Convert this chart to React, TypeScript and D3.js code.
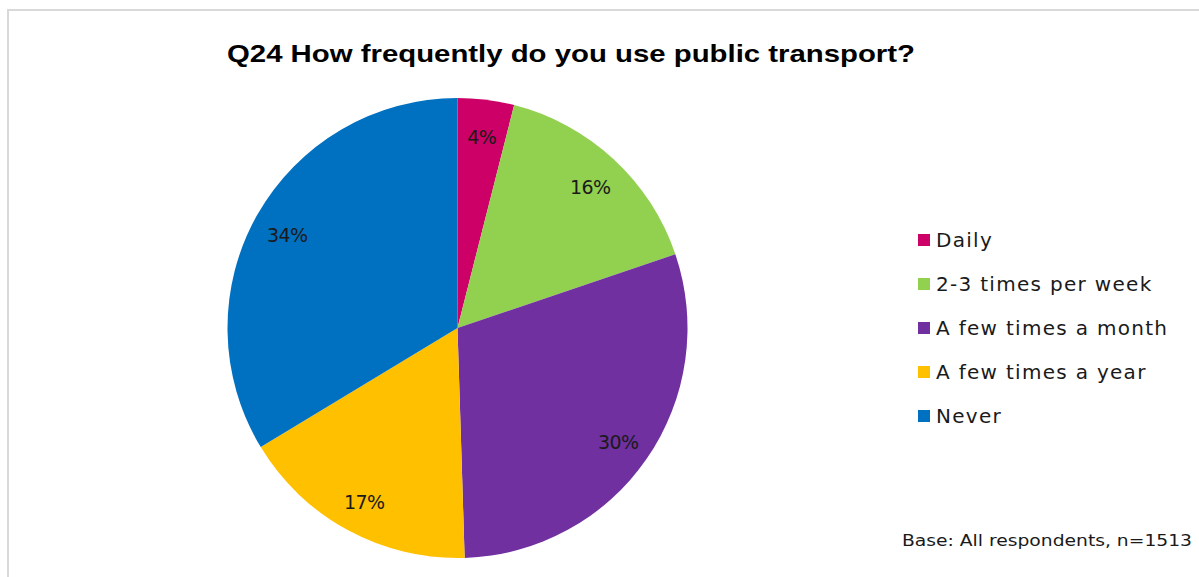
import React from "react";
import * as d3 from "d3";

const categories = ["Daily", "2-3 times per week", "A few times a month", "A few times a year", "Never"];
const values = [4, 16, 30, 17, 34];
const colors = ["#CC0066", "#92D050", "#7030A0", "#FFC000", "#0070C0"];
const title = "Q24 How frequently do you use public transport?";
const baseNote = "Base: All respondents, n=1513";

export default function App() {
  const W = 1199, H = 577;
  const cx = 457.5, cy = 328, R = 230;
  const pie = d3.pie<number>().sort(null).value((d) => d)(values);
  const arc = d3.arc<d3.PieArcDatum<number>>().innerRadius(0).outerRadius(R);
  const labelArc = d3.arc<d3.PieArcDatum<number>>().innerRadius(R * 0.85).outerRadius(R * 0.85);
  const legendX = 918, legendY0 = 240, legendStep = 44;
  const font = "'DejaVu Sans', sans-serif";
  return (
    <svg width={W} height={H} style={{ position: "absolute", left: 0, top: 0, background: "#fff" }}>
      <rect x={8} y={10} width={W + 10} height={H + 10} fill="#fff" stroke="#d9d9d9" strokeWidth={2} />
      <text x={571} y={62} textAnchor="middle" fontFamily="'Liberation Sans', Arial, sans-serif" fontWeight="bold" fontSize={24} fill="#000" textLength={688} lengthAdjust="spacingAndGlyphs">{title}</text>
      <g transform={`translate(${cx},${cy})`}>
        {pie.map((p, i) => (
          <path key={i} d={arc(p) || ""} fill={colors[i]} />
        ))}
        {pie.map((p, i) => {
          const [x, y] = labelArc.centroid(p);
          return (
            <text key={"l" + i} x={x} y={y} dy="0.5em" textAnchor="middle" fontFamily={font} fontSize={19} fill="#1a1a1a" letterSpacing={-0.6}>
              {values[i]}%
            </text>
          );
        })}
      </g>
      {categories.map((c, i) => (
        <g key={c} transform={`translate(${legendX},${legendY0 + i * legendStep})`}>
          <rect x={0} y={-6} width={12} height={12} fill={colors[i]} />
          <text x={18} y={0} dy="0.36em" fontFamily={font} fontSize={20} fill="#1a1a1a" letterSpacing={1.3}>{c}</text>
        </g>
      ))}
      <text x={902} y={546} fontFamily={font} fontSize={16} fill="#1a1a1a" textLength={290} lengthAdjust="spacingAndGlyphs">{baseNote}</text>
    </svg>
  );
}
